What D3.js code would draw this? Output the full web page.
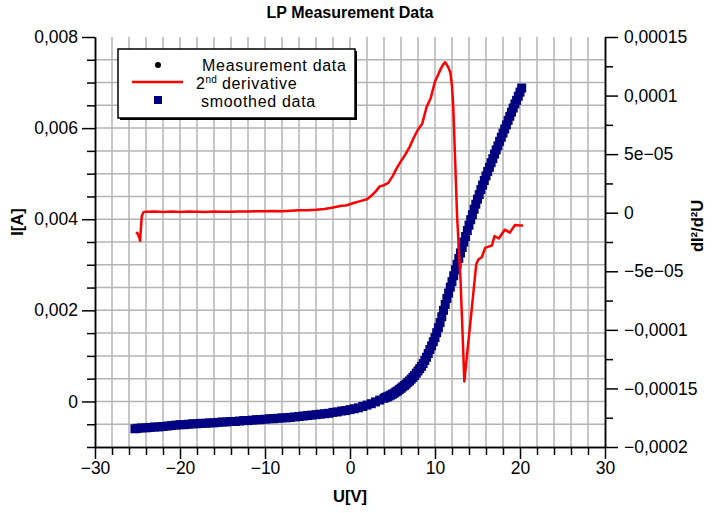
<!DOCTYPE html>
<html><head><meta charset="utf-8">
<script src="https://cdn.jsdelivr.net/npm/d3@7"></script>
<style>body{margin:0;background:#fff}svg{display:block;font-family:"Liberation Sans",Arial,Helvetica,sans-serif}</style>
</head><body><svg id="c" width="715" height="513"></svg>
<script>
// ---- data ----
const smoothU = [-25.3,-25,-24.5,-24,-23.5,-23,-22.5,-22,-21.5,-21,-20.5,-20,-19.5,-19,-18.5,-18,-17.5,-17,-16.5,-16,-15.5,-15,-14.5,-14,-13.5,-13,-12.5,-12,-11.5,-11,-10.5,-10,-9.5,-9,-8.5,-8,-7.5,-7,-6.5,-6,-5.5,-5,-4.5,-4,-3.5,-3,-2.5,-2,-1.5,-1,-0.5,0,0.5,1,1.5,2,2.5,3,3.5,
  4,4.2,4.4,4.6,4.8,5,5.2,5.4,5.6,5.8,6,6.2,6.4,6.6,6.8,7,7.2,7.4,7.6,7.8,8,8.2,8.4,8.6,8.8,9,9.2,9.4,9.6,9.8,10,10.2,10.4,10.6,10.8,11,11.2,11.4,11.6,11.8,12,12.2,12.4,12.6,12.8,13,13.2,13.4,13.6,13.8,14,14.2,14.4,14.6,14.8,15,15.2,15.4,15.6,15.8,16,16.2,16.4,16.6,16.8,17,17.2,17.4,17.6,17.8,18,18.2,18.4,18.6,18.8,19,19.2,19.4,19.6,19.8,20,20.2];
const smoothI = [-0.00060,-0.00059,-0.00058,-0.00058,-0.00057,-0.00056,-0.00056,-0.00055,-0.00054,-0.00053,-0.00052,-0.00051,-0.00051,-0.00050,-0.00049,-0.00049,-0.00048,-0.00048,-0.00047,-0.00047,-0.00046,-0.00045,-0.00045,-0.00044,-0.00044,-0.00043,-0.00042,-0.00042,-0.00041,-0.00040,-0.00040,-0.00039,-0.00038,-0.00038,-0.00037,-0.00036,-0.00036,-0.00035,-0.00034,-0.00033,-0.00032,-0.00031,-0.00030,-0.00029,-0.00028,-0.00027,-0.00026,-0.00024,-0.00023,-0.00021,-0.00020,-0.00018,-0.00016,-0.00014,-0.00011,-0.00008,-0.00005,-0.00001,0.00003,
  0.00007,0.00009,0.00010,0.00012,0.00014,0.00016,0.00018,0.00021,0.00023,0.00026,0.00029,0.00032,0.00035,0.00038,0.00042,0.00045,0.00049,0.00053,0.00057,0.00062,0.00067,0.00072,0.00077,0.00083,0.00090,0.00097,0.00105,0.00114,0.00122,0.00131,0.00140,0.00151,0.00162,0.00173,0.00186,0.00200,0.00213,0.00226,0.00238,0.00251,0.00263,0.00276,0.00289,0.00301,0.00314,0.00326,0.00338,0.00350,0.00362,0.00375,0.00387,0.00399,0.00410,0.00422,0.00433,0.00444,0.00454,0.00465,0.00475,0.00485,0.00495,0.00505,0.00514,0.00524,0.00533,0.00543,0.00552,0.00561,0.00571,0.00580,0.00589,0.00598,0.00607,0.00617,0.00626,0.00635,0.00644,0.00653,0.00661,0.00670,0.00679,0.00688];
// raw measurement points lie under the smoothed squares
const measU = smoothU.slice();
const measI = smoothI.slice();
const derivU = [-25.2,-25,-24.8,-24.7,-24.5,-24.3,-24,-23,-22,-21,-20,-19,-18,-17,-16,-15,-14,-13,-12,-11,-10,-9,-8,-7,-6,-5,-4,-3,-2,-1,-0.5,0,0.5,1,1.5,2,2.5,3,3.5,4,4.5,5,5.5,6,6.5,7,7.5,8,8.5,9,9.5,10,10.5,10.9,11.2,11.5,11.8,12,12.15,12.3,12.45,12.6,12.8,13,13.2,13.45,13.8,14.2,14.6,14.85,15.1,15.5,15.9,16.3,16.7,17,17.5,18.2,18.8,19.4,20,20.35];
const derivV = [-1.70e-5,-1.75e-5,-2.10e-5,-2.40e-5,-0.30e-5,0.05e-5,0.08e-5,0.10e-5,0.06e-5,0.10e-5,0.06e-5,0.10e-5,0.08e-5,0.06e-5,0.10e-5,0.08e-5,0.08e-5,0.10e-5,0.10e-5,0.12e-5,0.12e-5,0.14e-5,0.12e-5,0.16e-5,0.20e-5,0.22e-5,0.26e-5,0.32e-5,0.45e-5,0.60e-5,0.62e-5,0.72e-5,0.85e-5,0.95e-5,1.05e-5,1.15e-5,1.45e-5,1.80e-5,2.25e-5,2.35e-5,2.55e-5,3.10e-5,3.80e-5,4.40e-5,4.95e-5,5.60e-5,6.40e-5,7.10e-5,7.60e-5,9.00e-5,9.80e-5,11.2e-5,12.0e-5,12.6e-5,12.85e-5,12.5e-5,12.0e-5,10.8e-5,9.0e-5,5.9e-5,2.8e-5,-0.3e-5,-3.0e-5,-5.7e-5,-9.5e-5,-14.4e-5,-11.9e-5,-9.1e-5,-6.2e-5,-4.4e-5,-4.0e-5,-3.8e-5,-3.0e-5,-2.9e-5,-2.8e-5,-2.0e-5,-2.2e-5,-1.45e-5,-1.7e-5,-1.05e-5,-1.1e-5,-1.1e-5];
const xMajor = [-30,-20,-10,0,10,20,30];
const xMajorLabels = ["\u221230","\u221220","\u221210","0","10","20","30"];
const xMinor = [-28,-26,-24,-22,-18,-16,-14,-12,-8,-6,-4,-2,2,4,6,8,12,14,16,18,22,24,26,28];
const yLMajor = [0,0.002,0.004,0.006,0.008];
const yLMajorLabels = ["0","0,002","0,004","0,006","0,008"];
const yLMinor = [-0.001,-0.0005,0.0005,0.001,0.0015,0.0025,0.003,0.0035,0.0045,0.005,0.0055,0.0065,0.007,0.0075];
const yRMajor = [-0.0002,-0.00015,-0.0001,-0.00005,0,0.00005,0.0001,0.00015];
const yRMajorLabels = ["\u22120,0002","\u22120,00015","\u22120,0001","\u22125e\u221205","0","5e\u221205","0,0001","0,00015"];
const yRMinor = [-0.000175,-0.000125,-0.000075,-0.000025,0.000025,0.000075,0.000125];
const gridX = [-28,-26,-24,-22,-20,-18,-16,-14,-12,-10,-8,-6,-4,-2,0,2,4,6,8,10,12,14,16,18,20,22,24,26,28];
const gridY = [-0.0005,0,0.0005,0.001,0.0015,0.002,0.0025,0.003,0.0035,0.004,0.0045,0.005,0.0055,0.006,0.0065,0.007,0.0075];
const legendLabels = ["Measurement data","derivative","smoothed data"];

// ---- scales ----
const svg = d3.select("#c");
const x = d3.scaleLinear().domain([-30,30]).range([95,605]);
const yL = d3.scaleLinear().domain([-0.001,0.008]).range([447,37]);
const yR = d3.scaleLinear().domain([-0.0002,0.00015]).range([447,37]);
const FS = "17.5px";

svg.append("rect").attr("width",715).attr("height",513).attr("fill","#fff");

// grid
const g = svg.append("g").attr("stroke","#b4b4b4").attr("stroke-width",1.5);
g.selectAll(".gx").data(gridX).join("line").attr("x1",d=>x(d)).attr("x2",d=>x(d)).attr("y1",yL(0.008)).attr("y2",yL(-0.001));
g.selectAll(".gy").data(gridY).join("line").attr("y1",d=>yL(d)).attr("y2",d=>yL(d)).attr("x1",x(-30)).attr("x2",x(30));

// axes
function styleAxis(sel){
  sel.selectAll("path").attr("stroke","#000").attr("stroke-width",1.5);
  sel.selectAll("line").attr("stroke","#000").attr("stroke-width",1.5);
  sel.selectAll("text").attr("fill","#000").style("font-size",FS).style("font-family","'Liberation Sans',Arial,sans-serif");
}
const ax1 = svg.append("g").attr("transform",`translate(0,${yL(-0.001)})`)
  .call(d3.axisBottom(x).tickValues(xMajor).tickSize(12).tickSizeOuter(0).tickPadding(3).tickFormat((d,i)=>xMajorLabels[i]));
styleAxis(ax1);
const ax1m = svg.append("g").attr("transform",`translate(0,${yL(-0.001)})`)
  .call(d3.axisBottom(x).tickValues(xMinor).tickSize(8).tickSizeOuter(0).tickFormat(""));
styleAxis(ax1m);

const ax2 = svg.append("g").attr("transform",`translate(${x(-30)},0)`)
  .call(d3.axisLeft(yL).tickValues(yLMajor).tickSize(13).tickSizeOuter(0).tickPadding(4).tickFormat((d,i)=>yLMajorLabels[i]));
styleAxis(ax2);
const ax2m = svg.append("g").attr("transform",`translate(${x(-30)},0)`)
  .call(d3.axisLeft(yL).tickValues(yLMinor).tickSize(8).tickSizeOuter(0).tickFormat(""));
styleAxis(ax2m);

const ax3 = svg.append("g").attr("transform",`translate(${x(30)},0)`)
  .call(d3.axisRight(yR).tickValues(yRMajor).tickSize(13).tickSizeOuter(0).tickPadding(6).tickFormat((d,i)=>yRMajorLabels[i]));
styleAxis(ax3);
const ax3m = svg.append("g").attr("transform",`translate(${x(30)},0)`)
  .call(d3.axisRight(yR).tickValues(yRMinor).tickSize(8).tickSizeOuter(0).tickFormat(""));
styleAxis(ax3m);

// titles
svg.append("text").attr("x",350).attr("y",18).attr("text-anchor","middle")
  .style("font-size","16px").style("font-weight","bold").text("LP Measurement Data");
svg.append("text").attr("x",350).attr("y",502).attr("text-anchor","middle")
  .style("font-size","16.5px").style("font-weight","bold").text("U[V]");
svg.append("text").attr("transform","translate(23,222) rotate(-90)").attr("text-anchor","middle")
  .style("font-size","16.5px").style("font-weight","bold").text("I[A]");
svg.append("text").attr("transform","translate(703,226) rotate(-90)").attr("text-anchor","middle")
  .style("font-size","16.5px").style("font-weight","bold").text("dI\u00b2/d\u00b2U");

// measurement data (black dots, under smoothed squares)
svg.append("g").selectAll("circle").data(measU).join("circle")
  .attr("cx",d=>x(d)).attr("cy",(d,i)=>yL(measI[i])).attr("r",2).attr("fill","#000");

// smoothed data squares
svg.append("g").selectAll("rect").data(smoothU).join("rect")
  .attr("x",d=>x(d)-4.5).attr("y",(d,i)=>yL(smoothI[i])-4.5).attr("width",9).attr("height",9).attr("fill","#000080");

// 2nd derivative line
const line = d3.line().x(d=>x(d[0])).y(d=>yR(d[1])).curve(d3.curveLinear);
svg.append("path").datum(derivU.map((u,i)=>[u,derivV[i]]))
  .attr("d",line).attr("fill","none").attr("stroke","#ff0000").attr("stroke-width",2.5).attr("stroke-linejoin","round");

// legend
const LFS = "16px", LS = "0.7px";
const lg = svg.append("g");
lg.append("rect").attr("x",120).attr("y",51).attr("width",237).attr("height",69).attr("fill","#000");
lg.append("rect").attr("x",118).attr("y",49).attr("width",237).attr("height",69).attr("fill","#fff").attr("stroke","#000").attr("stroke-width",1.5);
lg.append("circle").attr("cx",158).attr("cy",65).attr("r",3).attr("fill","#000");
lg.append("line").attr("x1",132).attr("x2",183).attr("y1",82).attr("y2",82).attr("stroke","#ff0000").attr("stroke-width",2.5);
lg.append("rect").attr("x",154).attr("y",96).attr("width",8).attr("height",8).attr("fill","#000080");
lg.append("text").attr("x",202).attr("y",70.5).style("font-size",LFS).style("letter-spacing",LS).text(legendLabels[0]);
const t2 = lg.append("text").attr("x",196).attr("y",88.5).style("font-size",LFS).style("letter-spacing",LS);
t2.append("tspan").text("2");
t2.append("tspan").attr("dy",-6).style("font-size","10px").style("letter-spacing","0px").text("nd");
t2.append("tspan").attr("dy",6).text(" " + legendLabels[1]);
lg.append("text").attr("x",201).attr("y",106.5).style("font-size",LFS).style("letter-spacing",LS).text(legendLabels[2]);
</script></body></html>
